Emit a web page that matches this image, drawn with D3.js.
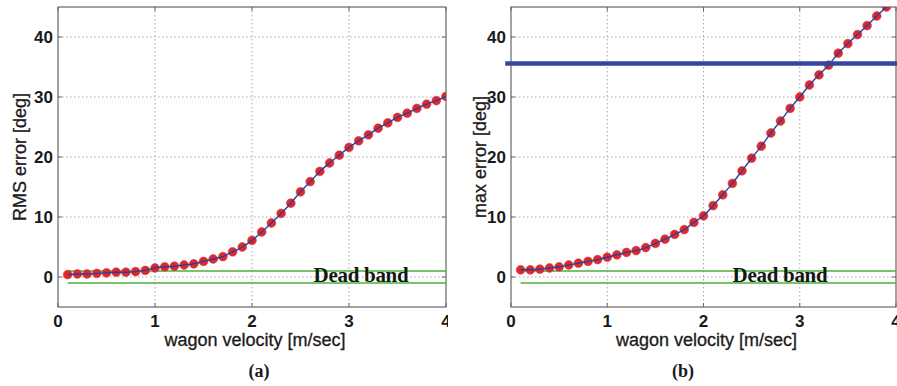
<!DOCTYPE html>
<html lang="en">
<head>
    <meta charset="UTF-8">
    <title>Wagon velocity error</title>
    <script src="https://d3js.org/d3.v7.min.js"></script>
    <style>
        body { margin: 0; background: #fff; }
        .tick-label { font-family: "Liberation Sans", Arial, sans-serif; font-size: 17px; font-weight: bold; fill: #1a1a1a; }
        .axis-label { font-family: "Liberation Sans", Arial, sans-serif; font-size: 18px; fill: #1a1a1a; stroke: #1a1a1a; stroke-width: 0.3; }
        .panel-label { font-family: "Liberation Serif", "Times New Roman", serif; font-size: 18px; font-weight: bold; fill: #1a1a1a; }
        .band-label { font-family: "Liberation Serif", "Times New Roman", serif; font-size: 21px; font-weight: bold; fill: #0f1a0f; letter-spacing: -0.3px; }
        .grid { stroke: #a8a8a8; stroke-width: 1; stroke-dasharray: 1.5 2.5; }
    </style>
</head>
<body>
<svg width="897" height="386"></svg>
<script>
    // velocity samples [m/sec]
    const velocity = [0.1, 0.2, 0.3, 0.4, 0.5, 0.6, 0.7, 0.8, 0.9, 1.0,
        1.1, 1.2, 1.3, 1.4, 1.5, 1.6, 1.7, 1.8, 1.9, 2.0,
        2.1, 2.2, 2.3, 2.4, 2.5, 2.6, 2.7, 2.8, 2.9, 3.0,
        3.1, 3.2, 3.3, 3.4, 3.5, 3.6, 3.7, 3.8, 3.9, 4.0];

    // (a) RMS error [deg]
    const rmsError = [0.4, 0.5, 0.5, 0.6, 0.7, 0.8, 0.8, 0.9, 1.1, 1.5,
        1.7, 1.8, 2.0, 2.2, 2.6, 3.0, 3.4, 4.2, 5.0, 6.1,
        7.5, 9.0, 10.6, 12.3, 14.2, 15.9, 17.6, 19.0, 20.3, 21.6,
        22.7, 23.7, 24.8, 25.7, 26.6, 27.3, 28.1, 28.8, 29.4, 30.1];

    // (b) max error [deg]
    const maxError = [1.2, 1.2, 1.3, 1.5, 1.7, 2.0, 2.3, 2.6, 2.9, 3.3,
        3.7, 4.1, 4.4, 4.9, 5.6, 6.3, 7.1, 7.9, 9.1, 10.2,
        11.9, 13.7, 15.6, 17.7, 19.8, 21.8, 24.0, 26.0, 28.1, 30.0,
        32.0, 33.7, 35.3, 37.3, 38.9, 40.4, 41.9, 43.5, 45.0, 46.5];

    const xTicks = [0, 1, 2, 3, 4];
    const yTicks = [0, 10, 20, 30, 40];
    const deadBand = [-1, 1];
    const deadBandFrom = 0.1;
    const maxThreshold = 35.6;
    const thresholdFrom = -0.06;

    const svg = d3.select("svg");
    const plotTop = 7, plotBottom = 307;

    const panels = [
        { id: "a", left: 58, right: 446, clipRight: 448, values: rmsError, ylabel: "RMS error [deg]", labelX: 20, band: 361, tag: "(a)", tagX: 259 },
        { id: "b", left: 511, right: 896, clipRight: 897, values: maxError, ylabel: "max error [deg]", labelX: 480, band: 780, tag: "(b)", tagX: 683, threshold: true }
    ];

    panels.forEach(p => {
        const x = d3.scaleLinear().domain([0, 4]).range([p.left, p.right]);
        const y = d3.scaleLinear().domain([-5, 45]).range([plotBottom, plotTop]);

        svg.append("clipPath").attr("id", "panel-" + p.id)
            .append("rect").attr("x", p.left - 60).attr("y", 0)
            .attr("width", p.clipRight - p.left + 60).attr("height", 386);
        svg.append("clipPath").attr("id", "plot-" + p.id)
            .append("rect").attr("x", p.left).attr("y", plotTop)
            .attr("width", p.right - p.left).attr("height", plotBottom - plotTop);

        const g = svg.append("g").attr("clip-path", `url(#panel-${p.id})`);

        // grid
        g.selectAll(".gx").data(xTicks.slice(1, -1)).enter().append("line")
            .attr("class", "grid")
            .attr("x1", d => x(d)).attr("x2", d => x(d))
            .attr("y1", plotTop).attr("y2", plotBottom);
        g.selectAll(".gy").data(yTicks).enter().append("line")
            .attr("class", "grid")
            .attr("x1", p.left).attr("x2", p.right)
            .attr("y1", d => y(d)).attr("y2", d => y(d));

        // box + inner ticks
        g.append("rect")
            .attr("x", p.left).attr("y", plotTop)
            .attr("width", p.right - p.left).attr("height", plotBottom - plotTop)
            .attr("fill", "none").attr("stroke", "#666").attr("stroke-width", 1.2);
        yTicks.forEach(t => {
            g.append("line").attr("x1", p.left).attr("x2", p.left + 4)
                .attr("y1", y(t)).attr("y2", y(t)).attr("stroke", "#666");
            g.append("line").attr("x1", p.right).attr("x2", p.right - 4)
                .attr("y1", y(t)).attr("y2", y(t)).attr("stroke", "#666");
        });
        xTicks.forEach(t => {
            g.append("line").attr("x1", x(t)).attr("x2", x(t))
                .attr("y1", plotBottom).attr("y2", plotBottom - 4).attr("stroke", "#666");
            g.append("line").attr("x1", x(t)).attr("x2", x(t))
                .attr("y1", plotTop).attr("y2", plotTop + 4).attr("stroke", "#666");
        });

        // tick labels
        g.selectAll(".yl").data(yTicks).enter().append("text")
            .attr("class", "tick-label")
            .attr("x", p.left - 5).attr("y", d => y(d) + 6)
            .attr("text-anchor", "end")
            .text(d => d);
        g.selectAll(".xl").data(xTicks).enter().append("text")
            .attr("class", "tick-label")
            .attr("x", d => x(d)).attr("y", 327)
            .attr("text-anchor", "middle")
            .text(d => d);

        // axis labels
        g.append("text").attr("class", "axis-label")
            .attr("x", (p.left + p.right) / 2 + 3).attr("y", 346)
            .attr("text-anchor", "middle")
            .text("wagon velocity [m/sec]");
        g.append("text").attr("class", "axis-label")
            .attr("transform", `translate(${p.labelX + 6},${(plotTop + plotBottom) / 2}) rotate(-90)`)
            .attr("text-anchor", "middle")
            .text(p.ylabel);
        g.append("text").attr("class", "panel-label")
            .attr("x", p.tagX).attr("y", 377)
            .attr("text-anchor", "middle")
            .text(p.tag);

        const plot = svg.append("g").attr("clip-path", `url(#plot-${p.id})`);

        // dead band
        deadBand.forEach(v => {
            plot.append("line")
                .attr("x1", x(deadBandFrom)).attr("x2", x(4))
                .attr("y1", y(v)).attr("y2", y(v))
                .attr("stroke", "#4caf3c").attr("stroke-width", 1.6);
        });

        const pts = velocity.map((v, i) => [v, p.values[i]]);

        plot.selectAll(".pt").data(pts).enter().append("circle")
            .attr("cx", d => x(d[0])).attr("cy", d => y(d[1]))
            .attr("r", 4.4)
            .attr("fill", "#e0282c").attr("stroke", "#d04040").attr("stroke-width", 0.6);

        plot.append("path")
            .datum(pts)
            .attr("d", d3.line().x(d => x(d[0])).y(d => y(d[1])).curve(d3.curveMonotoneX))
            .attr("fill", "none").attr("stroke", "#2d3f9c").attr("stroke-width", 1.4);

        plot.append("text").attr("class", "band-label")
            .attr("x", p.band).attr("y", 282)
            .attr("text-anchor", "middle")
            .text("Dead band");

        if (p.threshold) {
            svg.append("line")
                .attr("x1", x(thresholdFrom)).attr("x2", 897)
                .attr("y1", y(maxThreshold)).attr("y2", y(maxThreshold))
                .attr("stroke", "#3346a4").attr("stroke-width", 4.5);
        }
    });
</script>
</body>
</html>
